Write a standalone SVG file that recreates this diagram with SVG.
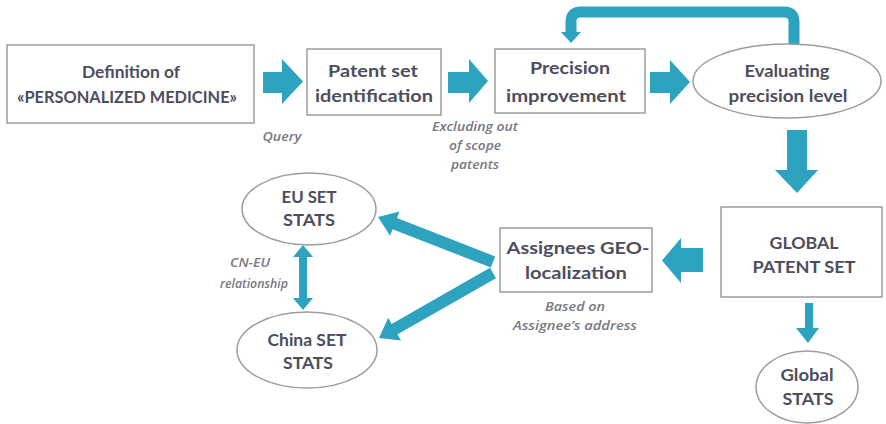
<svg xmlns="http://www.w3.org/2000/svg" width="886" height="424" viewBox="0 0 886 424">
<style>
.box{fill:#fff;stroke:#9d9d9d;stroke-width:1.5}
.t{font-family:Lato,"Open Sans","Liberation Sans",sans-serif;font-weight:700;font-size:17.5px;fill:#4d4d5e;text-anchor:middle}
.l{font-family:"Open Sans",Lato,"Liberation Sans",sans-serif;font-style:italic;font-weight:600;font-size:13px;fill:#777782;text-anchor:middle}
.a{fill:#2ea3bf}
.al{fill:none;stroke:#2ea3bf;stroke-width:11}
</style>
<rect width="886" height="424" fill="#fff"/>
<g id="connectors">
<polygon class="a" points="263,72 282,72 282,59 303,81.5 282,104 282,93 263,93"/>
<polygon class="a" points="448,72 469,72 469,59 488,81 469,103 469,93 448,93"/>
<polygon class="a" points="650,72 670,72 670,60 690,82 670,104 670,93 650,93"/>
<path class="al" d="M794,46 V22 Q794,12 784,12 H581 Q571,12 571,22 V33"/>
<polygon class="a" points="561,32 581,32 571,43"/>
<polygon class="a" points="787,130 807,130 807,170 818,170 797,193 775,170 787,170"/>
<polygon class="a" points="703,248 681,248 681,238 662,260.5 681,283 681,272 703,272"/>
<polygon class="a" points="805,303 813,303 813,328 819,328 808,343 796,328 805,328"/>
<polygon class="a" points="495.2,256.4 397,218 399.5,211.5 378,217 390.1,235.7 392.6,229.2 490.8,267.6"/>
<polygon class="a" points="490,267.8 391.6,323.9 388.2,317.8 379,338 401,340.4 397.6,334.3 496,278.2"/>
<polygon class="a" points="303,245 313,257 307,257 307,298 313,298 303,310 293,298 299,298 299,257 293,257"/>
</g>
<g id="definition">
<rect class="box" x="7" y="45" width="247" height="78"/>
<text class="t" x="131" y="78" textLength="98" lengthAdjust="spacingAndGlyphs">Definition of</text>
<text class="t" x="127" y="103" textLength="220" lengthAdjust="spacingAndGlyphs">«PERSONALIZED MEDICINE»</text>
</g>
<g id="patent-set">
<rect class="box" x="307" y="49" width="134" height="66"/>
<text class="t" x="373" y="77" textLength="90" lengthAdjust="spacingAndGlyphs">Patent set</text>
<text class="t" x="374" y="102" textLength="118" lengthAdjust="spacingAndGlyphs">identification</text>
</g>
<g id="precision">
<rect class="box" x="495" y="49" width="150" height="64"/>
<text class="t" x="570" y="74" textLength="80" lengthAdjust="spacingAndGlyphs">Precision</text>
<text class="t" x="566" y="102" textLength="120" lengthAdjust="spacingAndGlyphs">improvement</text>
</g>
<g id="evaluating">
<ellipse class="box" cx="787" cy="81" rx="94" ry="37"/>
<text class="t" x="787" y="77" textLength="85" lengthAdjust="spacingAndGlyphs">Evaluating</text>
<text class="t" x="788" y="102" textLength="119" lengthAdjust="spacingAndGlyphs">precision level</text>
</g>
<g id="global-set">
<rect class="box" x="721" y="207" width="161" height="90"/>
<text class="t" x="804" y="249" textLength="69" lengthAdjust="spacingAndGlyphs">GLOBAL</text>
<text class="t" x="804" y="273" textLength="103" lengthAdjust="spacingAndGlyphs">PATENT SET</text>
</g>
<g id="global-stats">
<ellipse class="box" cx="807" cy="387" rx="51" ry="36"/>
<text class="t" x="807" y="381" textLength="53" lengthAdjust="spacingAndGlyphs">Global</text>
<text class="t" x="808" y="405" textLength="51" lengthAdjust="spacingAndGlyphs">STATS</text>
</g>
<g id="assignees">
<rect class="box" x="500" y="228" width="152" height="64"/>
<text class="t" x="578" y="254" textLength="143" lengthAdjust="spacingAndGlyphs">Assignees GEO-</text>
<text class="t" x="576" y="279" textLength="102" lengthAdjust="spacingAndGlyphs">localization</text>
</g>
<g id="eu-stats">
<ellipse class="box" cx="309" cy="209" rx="67" ry="36"/>
<text class="t" x="309" y="203" textLength="55" lengthAdjust="spacingAndGlyphs">EU SET</text>
<text class="t" x="309" y="226" textLength="52" lengthAdjust="spacingAndGlyphs">STATS</text>
</g>
<g id="china-stats">
<ellipse class="box" cx="307" cy="350" rx="70" ry="38"/>
<text class="t" x="307" y="346" textLength="79" lengthAdjust="spacingAndGlyphs">China SET</text>
<text class="t" x="308" y="369" textLength="50" lengthAdjust="spacingAndGlyphs">STATS</text>
</g>
<g id="labels">
<text class="l" x="282" y="141" textLength="39" lengthAdjust="spacingAndGlyphs">Query</text>
<text class="l" x="475" y="131" textLength="86" lengthAdjust="spacingAndGlyphs">Excluding out</text>
<text class="l" x="475" y="150" textLength="52" lengthAdjust="spacingAndGlyphs">of scope</text>
<text class="l" x="475" y="169" textLength="48" lengthAdjust="spacingAndGlyphs">patents</text>
<text class="l" x="250" y="267" textLength="40" lengthAdjust="spacingAndGlyphs">CN-EU</text>
<text class="l" x="254" y="288" textLength="68" lengthAdjust="spacingAndGlyphs">relationship</text>
<text class="l" x="575" y="311" textLength="60" lengthAdjust="spacingAndGlyphs">Based on</text>
<text class="l" x="575" y="330" textLength="124" lengthAdjust="spacingAndGlyphs">Assignee’s address</text>
</g>
</svg>
